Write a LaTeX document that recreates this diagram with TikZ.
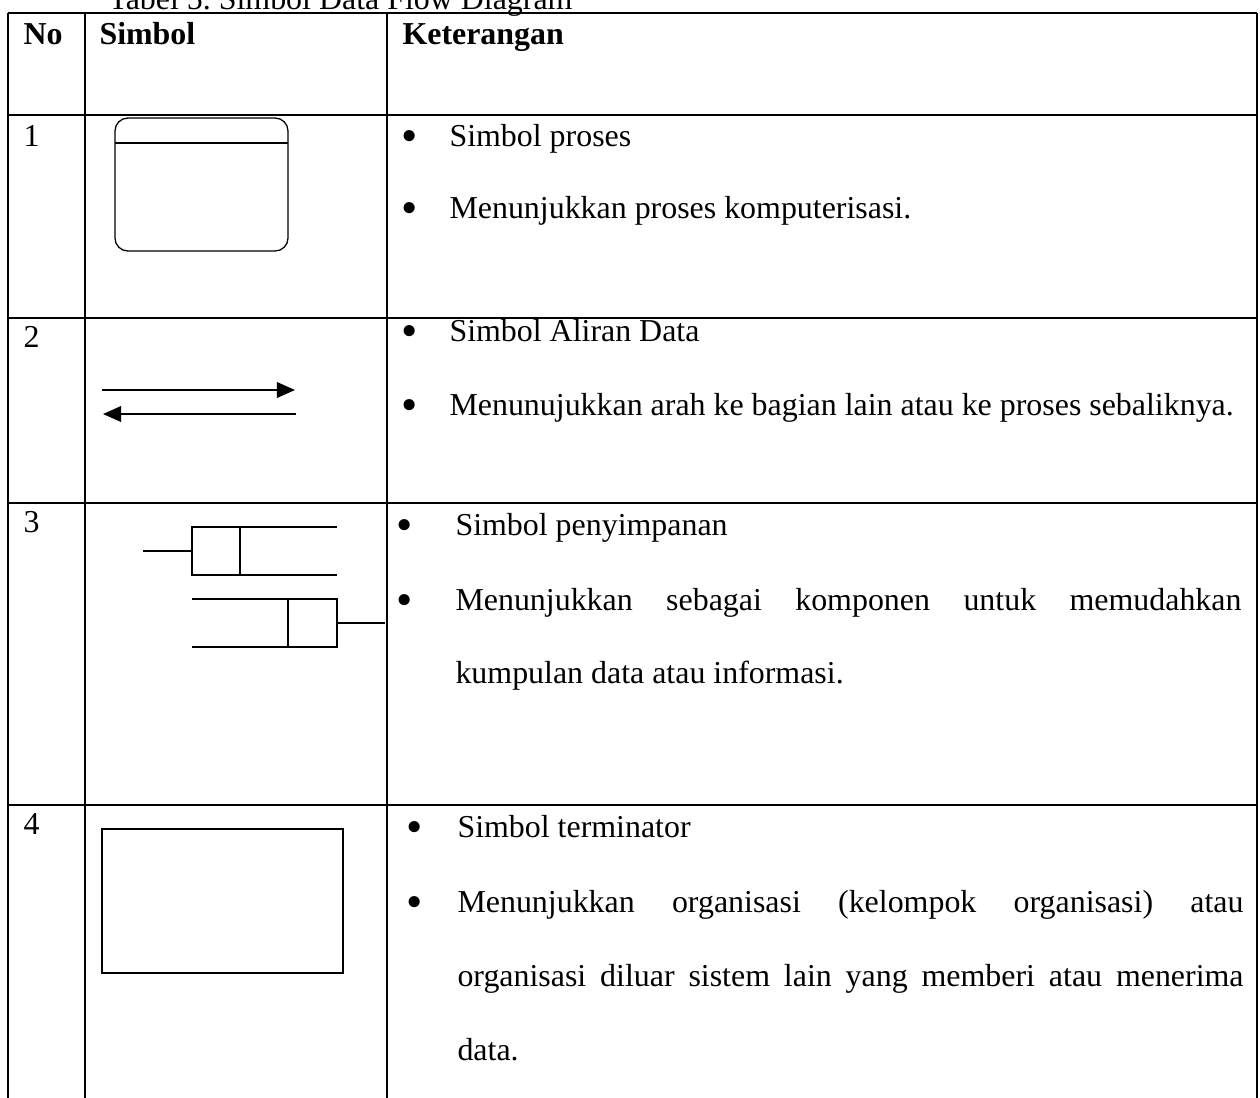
\documentclass[tikz,border=0pt]{standalone}
\usepackage{fontspec}
\setmainfont{Liberation Serif}
\usetikzlibrary{arrows.meta,fit}
\newlength\pxu
\setlength\pxu{0.387pt}
\newcommand{\jline}[1]{\makebox[786\pxu][s]{#1}}
\frenchspacing

\begin{document}
\begin{tikzpicture}[x=0.387pt, y=-0.387pt,
    txt/.style={anchor=base west, inner sep=0, font=\fontsize{12.35}{14}\selectfont},
    hdr/.style={txt, font=\fontsize{12.35}{14}\selectfont\bfseries},
    dot/.style={anchor=center, inner sep=0, font=\fontsize{18}{18}\selectfont},
    gridline/.style={line width=0.8pt},
    sym/.style={line width=0.5pt},
    flow/.style={line width=0.8pt, -{Triangle[length=7pt, width=6pt]}}]
    \useasboundingbox (0,0) rectangle (1260,1097);

    \node[txt] (judul) at (108,9) {Tabel 5. Simbol Data Flow Diagram};

    \foreach \y in {13,115,318,503,805}
        \draw[gridline] (8,\y) -- (1257,\y);
    \foreach \x in {8,85,387,1257}
        \draw[gridline] (\x,13) -- (\x,1100);

    \node[hdr] (hno)  at (23,44)  {No};
    \node[hdr] (hsim) at (99,44)  {Simbol};
    \node[hdr] (hket) at (402,44) {Keterangan};

    \node[txt] (no1) at (23,146) {1};
    \node[txt] (no2) at (23,347) {2};
    \node[txt] (no3) at (23,532) {3};
    \node[txt] (no4) at (23,834) {4};

    % proses
    \coordinate (p1) at (115,118);
    \coordinate (p2) at (288,251);
    \node[fit=(p1)(p2), inner sep=0, draw, sym, rounded corners=5pt] (proses) {};
    \draw[sym] (115,143) -- (288,143);

    % aliran data
    \coordinate (ka1) at (102,390);
    \coordinate (ka2) at (295,390);
    \coordinate (ki1) at (296,414);
    \coordinate (ki2) at (103,414);
    \draw[flow] (ka1) -- (ka2);
    \draw[flow] (ki1) -- (ki2);

    % penyimpanan
    \draw[gridline] (143,551) -- (192,551);
    \draw[gridline] (192,527) rectangle (240,575);
    \draw[gridline] (240,527) -- (337,527) (240,575) -- (337,575);
    \draw[gridline] (192,599) -- (288,599) (192,647) -- (288,647);
    \draw[gridline] (288,599) rectangle (337,647);
    \draw[gridline] (337,623) -- (385,623);

    % terminator
    \coordinate (t1) at (102,829);
    \coordinate (t2) at (343,973);
    \node[fit=(t1)(t2), inner sep=0, draw, sym] (terminator) {};

    \node[dot] (b1a) at (410,141) {\textbullet};
    \node[dot] (b1b) at (410,213) {\textbullet};
    \node[txt] (k1a) at (449,146) {Simbol proses};
    \node[txt] (k1b) at (449,218) {Menunjukkan proses komputerisasi.};

    \node[dot] (b2a) at (410,336) {\textbullet};
    \node[dot] (b2b) at (410,410) {\textbullet};
    \node[txt] (k2a) at (449,341) {Simbol Aliran Data};
    \node[txt] (k2b) at (449,415) {Menunujukkan arah ke bagian lain atau ke proses sebaliknya.};

    \node[dot] (b3a) at (405,530) {\textbullet};
    \node[dot] (b3b) at (405,605) {\textbullet};
    \node[txt] (k3a) at (455,535) {Simbol penyimpanan};
    \node[txt] (k3b) at (455,610) {\jline{Menunjukkan sebagai komponen untuk memudahkan}};
    \node[txt] (k3c) at (455,683) {kumpulan data atau informasi.};

    \node[dot] (b4a) at (415,832) {\textbullet};
    \node[dot] (b4b) at (415,907) {\textbullet};
    \node[txt] (k4a) at (457,837) {Simbol terminator};
    \node[txt] (k4b) at (457,912) {\jline{Menunjukkan organisasi (kelompok organisasi) atau}};
    \node[txt] (k4c) at (457,986) {\jline{organisasi diluar sistem lain yang memberi atau menerima}};
    \node[txt] (k4d) at (457,1060) {data.};
\end{tikzpicture}
\end{document}
